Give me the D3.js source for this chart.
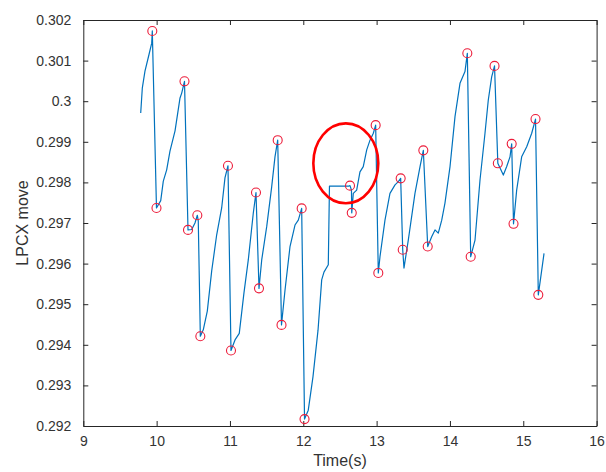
<!DOCTYPE html>
<html>
<head>
<meta charset="utf-8">
<script src="https://cdn.jsdelivr.net/npm/d3@7"></script>
<style>
  body { margin: 0; background: #fff; }
  text { font-family: "Liberation Sans", Arial, sans-serif; }
</style>
</head>
<body>
<svg id="chart" width="606" height="472"></svg>
<script>
// sampled trace
const times = [
  9.783, 9.805, 9.841, 9.896, 9.933, 9.941,
  9.998, 10.056, 10.091, 10.137, 10.182, 10.251, 10.319, 10.342, 10.380,
  10.428, 10.478, 10.523, 10.555, 10.568,
  10.596, 10.636, 10.691, 10.751, 10.819, 10.887, 10.932, 10.973,
  11.014, 11.069, 11.127, 11.191, 11.250, 11.318, 11.355,
  11.396, 11.433, 11.501, 11.569, 11.614, 11.651,
  11.703, 11.751, 11.819, 11.887, 11.932, 11.978,
  12.017, 12.068, 12.132, 12.201, 12.251, 12.282, 12.341, 12.357, 12.623, 12.637,
  12.657, 12.661, 12.682, 12.728, 12.773, 12.818, 12.865, 12.910, 12.955, 12.987,
  13.023, 13.046, 13.114, 13.182, 13.251, 13.296, 13.328,
  13.356, 13.373, 13.432, 13.523, 13.592, 13.637,
  13.697, 13.751, 13.796, 13.841, 13.888, 13.932, 14.001, 14.069, 14.137, 14.205, 14.237,
  14.283, 14.342, 14.410, 14.478, 14.523, 14.569, 14.608,
  14.653, 14.728, 14.774, 14.819, 14.842,
  14.867, 14.910, 14.978, 15.047, 15.115, 15.167,
  15.205, 15.283
];
const moves = [
  0.29971, 0.30033, 0.30074, 0.30115, 0.30143, 0.30173,
  0.29737, 0.29755, 0.29803, 0.29831, 0.29877, 0.29927, 0.30008, 0.30020, 0.30049,
  0.29683, 0.29684, 0.29700, 0.29719, 0.29705,
  0.29421, 0.29437, 0.29483, 0.29582, 0.29671, 0.29737, 0.29811, 0.29841,
  0.29386, 0.29412, 0.29428, 0.29528, 0.29609, 0.29724, 0.29775,
  0.29539, 0.29609, 0.29691, 0.29789, 0.29863, 0.29904,
  0.29449, 0.29535, 0.29642, 0.29695, 0.29707, 0.29736,
  0.29217, 0.29239, 0.29321, 0.29436, 0.29560, 0.29579, 0.29597, 0.29791, 0.29791, 0.29792,
  0.29781, 0.29725, 0.29773, 0.29781, 0.29826, 0.29839, 0.29880, 0.29904, 0.29921, 0.29941,
  0.29577, 0.29617, 0.29707, 0.29773, 0.29794, 0.29802, 0.29810,
  0.29634, 0.29589, 0.29658, 0.29773, 0.29839, 0.29879,
  0.29642, 0.29666, 0.29683, 0.29675, 0.29707, 0.29749, 0.29839, 0.29962, 0.30044, 0.30073, 0.30118,
  0.29617, 0.29658, 0.29806, 0.29921, 0.30003, 0.30060, 0.30087,
  0.29847, 0.29818, 0.29839, 0.29863, 0.29895,
  0.29698, 0.29781, 0.29863, 0.29888, 0.29921, 0.29956,
  0.29523, 0.29625
];

// detected peaks / troughs (red circles)
const peakTimes = [
  9.941, 9.998, 10.380, 10.428, 10.555, 10.596, 10.973, 11.014, 11.355, 11.396,
  11.651, 11.703, 11.978, 12.017, 12.637, 12.661, 12.987, 13.023, 13.328, 13.356,
  13.637, 13.697, 14.237, 14.283, 14.608, 14.653, 14.842, 14.867, 15.167, 15.205
];
const peakMoves = [
  0.30173, 0.29737, 0.30049, 0.29683, 0.29719, 0.29421, 0.29841, 0.29386, 0.29775, 0.29539,
  0.29904, 0.29449, 0.29736, 0.29217, 0.29792, 0.29725, 0.29941, 0.29577, 0.29810, 0.29634,
  0.29879, 0.29642, 0.30118, 0.29617, 0.30087, 0.29847, 0.29895, 0.29698, 0.29956, 0.29523
];

// highlighted region (ellipse centre and radii in data units)
const highlight = { t: 12.58, v: 0.29847, rt: 0.443, rv: 0.000985 };

const xTicks = [9, 10, 11, 12, 13, 14, 15, 16];
const yTicks = [0.292, 0.293, 0.294, 0.295, 0.296, 0.297, 0.298, 0.299, 0.3, 0.301, 0.302];
const yTickLabels = ["0.292", "0.293", "0.294", "0.295", "0.296", "0.297", "0.298", "0.299", "0.3", "0.301", "0.302"];

const axisColor = "#262626";
const lineColor = "#0072bd";
const markerColor = "#ec1c3a";

const plotLeft = 83.3, plotRight = 596.6, plotTop = 20, plotBottom = 426;

const svg = d3.select("#chart");

const x = d3.scaleLinear().domain([9, 16]).range([plotLeft, plotRight]);
const y = d3.scaleLinear().domain([0.292, 0.302]).range([plotBottom, plotTop]);

// axes (ticks inward, box on)
const tickLen = 5;
const styleAxis = g => {
  g.select(".domain").attr("stroke", axisColor).attr("stroke-width", 1);
  g.selectAll(".tick line").attr("stroke", axisColor);
  g.selectAll(".tick text")
    .attr("fill", "#333")
    .style("font-size", "14px");
};

svg.append("g")
  .attr("transform", `translate(0,${plotBottom})`)
  .call(d3.axisBottom(x).tickValues(xTicks).tickFormat(d3.format("d"))
    .tickSizeInner(-tickLen).tickSizeOuter(0).tickPadding(10))
  .call(styleAxis);

svg.append("g")
  .attr("transform", `translate(0,${plotTop})`)
  .call(d3.axisTop(x).tickValues(xTicks).tickFormat("")
    .tickSizeInner(-tickLen).tickSizeOuter(0))
  .call(styleAxis);

svg.append("g")
  .attr("transform", `translate(${plotLeft},0)`)
  .call(d3.axisLeft(y).tickValues(yTicks).tickFormat((d, i) => yTickLabels[i])
    .tickSizeInner(-tickLen).tickSizeOuter(0).tickPadding(12))
  .call(styleAxis);

svg.append("g")
  .attr("transform", `translate(${plotRight},0)`)
  .call(d3.axisRight(y).tickValues(yTicks).tickFormat("")
    .tickSizeInner(-tickLen).tickSizeOuter(0))
  .call(styleAxis);

svg.selectAll(".domain").attr("fill", "none");

// axis titles
svg.append("text")
  .attr("x", (plotLeft + plotRight) / 2)
  .attr("y", 466)
  .attr("text-anchor", "middle")
  .attr("fill", "#333")
  .style("font-size", "16px")
  .text("Time(s)");

svg.append("text")
  .attr("transform", `translate(28,${(plotTop + plotBottom) / 2}) rotate(-90)`)
  .attr("text-anchor", "middle")
  .attr("fill", "#333")
  .style("font-size", "16px")
  .text("LPCX move");

// trace
const trace = times.map((t, i) => [t, moves[i]]);
svg.append("path")
  .datum(trace)
  .attr("fill", "none")
  .attr("stroke", lineColor)
  .attr("stroke-width", 1.2)
  .attr("stroke-linejoin", "round")
  .attr("d", d3.line().x(d => x(d[0])).y(d => y(d[1])));

// peak markers
svg.append("g")
  .selectAll("circle")
  .data(peakTimes.map((t, i) => [t, peakMoves[i]]))
  .join("circle")
  .attr("cx", d => x(d[0]))
  .attr("cy", d => y(d[1]))
  .attr("r", 4.5)
  .attr("fill", "none")
  .attr("stroke", markerColor)
  .attr("stroke-width", 1.1);

// highlight ellipse
svg.append("ellipse")
  .attr("cx", x(highlight.t))
  .attr("cy", y(highlight.v))
  .attr("rx", x(highlight.t + highlight.rt) - x(highlight.t))
  .attr("ry", y(highlight.v) - y(highlight.v + highlight.rv))
  .attr("fill", "none")
  .attr("stroke", "#ff0000")
  .attr("stroke-width", 2.6);
</script>
</body>
</html>
